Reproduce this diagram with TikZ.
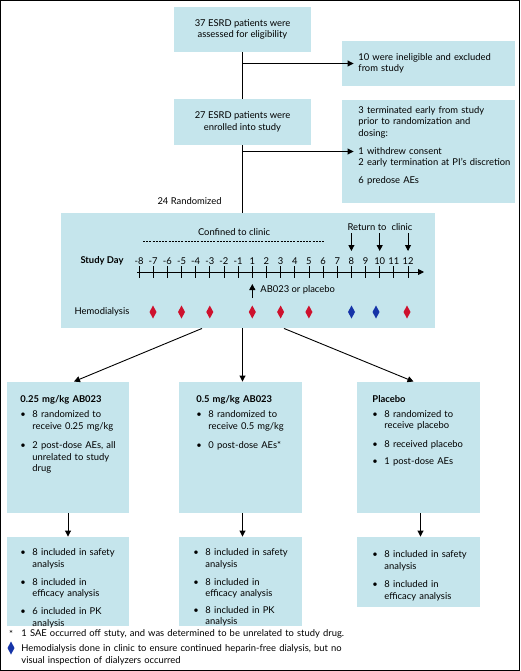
\documentclass[tikz,border=0pt]{standalone}
\usepackage{fontspec}
\setmainfont{Lato}
\usetikzlibrary{arrows.meta}
\definecolor{boxblue}{RGB}{197,229,236}
\definecolor{hdred}{RGB}{206,17,45}
\definecolor{hdblue}{RGB}{22,52,168}
\newcommand{\bul}[2][7pt]{\par\vspace{#1}\noindent\makebox[12pt][l]{\textbullet}\parbox[t]{100pt}{\strut#2\strut}}
\begin{document}
\begin{tikzpicture}[x=1pt,y=-1pt,>={Triangle[length=6pt,width=6pt]},line width=0.9pt,
		box/.style={fill=boxblue,inner sep=0pt},
		lbl/.style={font=\fontsize{9.4}{11.5}\selectfont,inner sep=0pt},
		txt/.style={font=\fontsize{9.4}{11.5}\selectfont,inner sep=0pt,align=left,anchor=north west,text width=#1},
		txt/.default=160pt,
		flow/.style={->}]
		\useasboundingbox (0,0) rectangle (520,671);
		\draw[line width=1.2pt] (0.6,0.6) rectangle (519.4,670.4);
		\node[box,lbl,minimum width=137pt,minimum height=45pt,align=center] (assess) at (242.5,29.5) {37 ESRD patients were\\assessed for eligibility};
		\node[box,minimum width=173pt,minimum height=45pt] (excl) at (428.5,63.5) {};
		\node[txt] (excltxt) at (358,52) {\strut 10 were ineligible and excluded\\from study};
		\node[box,lbl,minimum width=137pt,minimum height=46pt,align=center] (enrol) at (242.5,122) {27 ESRD patients were\\enrolled into study};
		\node[box,minimum width=173pt,minimum height=103pt] (term) at (428.5,151.5) {};
		\node[txt] (termtxt) at (358,105) {\strut 3 terminated early from study\\prior to randomization and\\dosing:\\[6.5pt]1 withdrew consent\\2 early termination at PI's discretion\\[6.5pt]6 predose AEs};
		\node[box,minimum width=374pt,minimum height=115pt] (study) at (248,270.5) {};
		\draw (assess.south) -- (enrol.north);
		\draw[flow] (assess.south |- excl.west) -- ([xshift=12pt]excl.west);
		\draw (enrol.south) -- (enrol.south |- study.north);
		\draw[flow] (enrol.south |- term.west) -- ([xshift=12pt]term.west);
		\node[lbl,anchor=east] (rand) at (222,201) {24 Randomized};
		\node[lbl] (conf) at (234,232) {Confined to clinic};
		\draw[line width=0.6pt,dash pattern=on 2pt off 1.2pt] (143,241) -- (325,241);
		\node[lbl] (ret) at (367,227) {Return to};
		\node[lbl] (clin) at (402,227) {clinic};
		\foreach \x in {351.4,379.7,408} \draw[flow] (\x,233) -- (\x,251);
		\node[lbl,font=\fontsize{9.4}{11.5}\selectfont\bfseries] (sday) at (102,261) {Study Day};
		\draw[flow] (137,272) -- (424,272);
		\foreach \d [count=\i from 0] in {-8,-7,-6,-5,-4,-3,-2,-1,1,2,3,4,5,6,7,8,9,10,11,12}{
			\draw[line width=0.8pt] ({139+\i*14.16},266) -- ++(0,12);
			\node[lbl] at ({139+\i*14.16},261) {\d};
		}
		\draw[flow] (252.3,298) -- (252.3,284);
		\node[lbl,anchor=west] (dose) at (260,290) {AB023 or placebo};
		\node[lbl] (hd) at (102,312) {Hemodialysis};
		\foreach \x/\c in {153/hdred,181.5/hdred,209.8/hdred,252.3/hdred,280.6/hdred,308.9/hdred,351.5/hdblue,376/hdblue,407/hdred}
			\fill[\c] (\x,305.5) -- ({\x+3.5},312) -- (\x,318.5) -- ({\x-3.5},312) -- cycle;
		\node[box,minimum width=122pt,minimum height=131pt] (arm1) at (68,447.5) {};
		\node[box,minimum width=123pt,minimum height=131pt] (arm2) at (240.5,447.5) {};
		\node[box,minimum width=123pt,minimum height=131pt] (arm3) at (418.5,447.5) {};
		\draw[flow] ([xshift=-46pt]study.south) -- ([xshift=6pt]arm1.north);
		\draw[flow] (enrol.south |- study.south) -- (enrol.south |- arm2.north);
		\draw[flow] ([xshift=36pt]study.south) -- ([xshift=-5pt]arm3.north);
		\node[txt=112pt] (arm1txt) at (20,394) {\strut\textbf{0.25 mg/kg AB023}\bul[3.5pt]{8 randomized to\\receive 0.25 mg/kg}\bul{2 post-dose AEs, all\\unrelated to study\\drug}};
		\node[txt=112pt] (arm2txt) at (196,394) {\strut\textbf{0.5 mg/kg AB023}\bul[3.5pt]{8 randomized to\\receive 0.5 mg/kg}\bul{0 post-dose AEs*}};
		\node[txt=112pt] (arm3txt) at (372,394) {\strut\textbf{Placebo}\bul[3pt]{8 randomized to\\receive placebo}\bul[6pt]{8 received placebo}\bul[6pt]{1 post-dose AEs}};
		\node[box,minimum width=122pt,minimum height=89pt] (res1) at (68,581.5) {};
		\node[box,minimum width=123pt,minimum height=89pt] (res2) at (240.5,581.5) {};
		\node[box,minimum width=123pt,minimum height=70pt] (res3) at (418.5,572) {};
		\draw[flow] (arm1.south) -- (res1.north);
		\draw[flow] (enrol.south |- arm2.south) -- (enrol.south |- res2.north);
		\draw[flow] ([xshift=2pt]arm3.south) -- ([xshift=2pt]res3.north);
		\node[txt=112pt] (res1txt) at (20,544) {\bul[0pt]{8 included in safety\\analysis}\bul[5.5pt]{8 included in\\efficacy analysis}\bul[5.5pt]{6 included in PK\\analysis}};
		\node[txt=112pt] (res2txt) at (193,544) {\bul[0pt]{8 included in safety\\analysis}\bul[5.5pt]{8 included in\\efficacy analysis}\bul[4pt]{8 included in PK\\analysis}};
		\node[txt=112pt] (res3txt) at (372,546) {\bul[0pt]{8 included in safety\\analysis}\bul[6pt]{8 included in\\efficacy analysis}};
		\node[lbl,anchor=base] (star) at (11,637) {*};
		\node[txt=420pt] (note1) at (21,628) {\strut 1 SAE occurred off stuty, and was determined to be unrelated to study drug.};
		\fill[hdblue] (11,641.5) -- (14.5,648) -- (11,654.5) -- (7.5,648) -- cycle;
		\node[txt=420pt] (note2) at (21,643) {\strut Hemodialysis done in clinic to ensure continued heparin-free dialysis, but no\\visual inspection of dialyzers occurred};
\end{tikzpicture}
\end{document}
